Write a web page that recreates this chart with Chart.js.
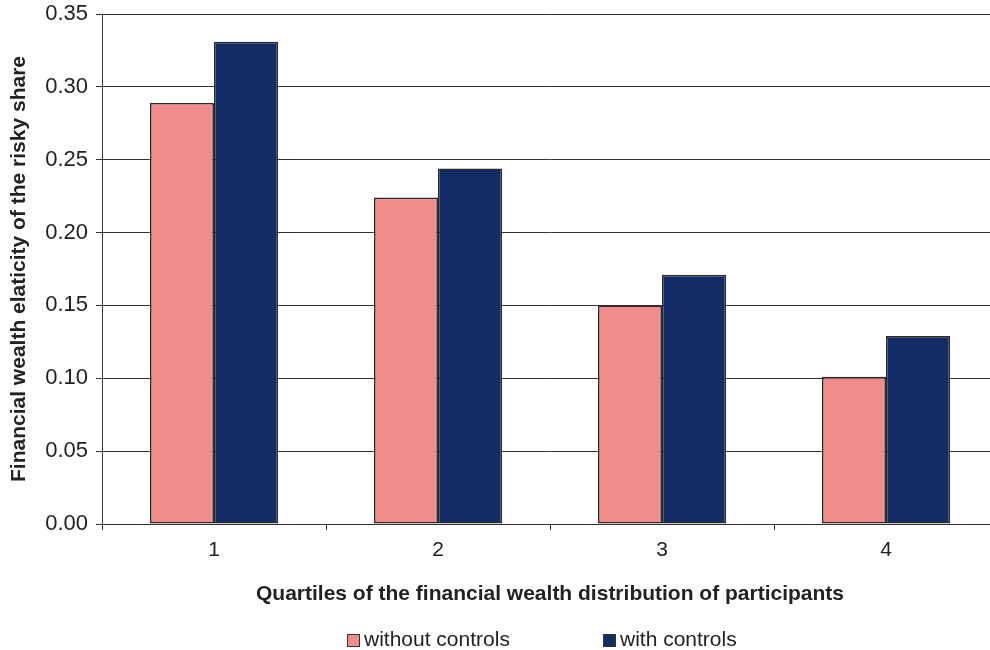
<!DOCTYPE html>
<html>
<head>
<meta charset="utf-8">
<script src="https://cdn.jsdelivr.net/npm/chart.js@4"></script>
<style>
  html, body { margin: 0; padding: 0; background: #fff; overflow: hidden; }
  #wrap { position: relative; width: 990px; height: 650px; overflow: hidden; }
  #chart { position: absolute; left: 0; top: 0; }
  .legend { position: absolute; top: 627px; font: 21px "Liberation Sans", Arial, sans-serif; color: #222; line-height: 24px; }
  .legend i { display: inline-block; width: 11px; height: 11px; border: 1px solid #333; margin-right: 4px; vertical-align: -1px; }
</style>
</head>
<body>
<div id="wrap">
  <canvas id="chart" width="1000" height="650"></canvas>
  <div class="legend" style="left:347px"><i style="background:#f08c8c"></i>without controls</div>
  <div class="legend" style="left:603px"><i style="background:#142c66"></i>with controls</div>
</div>
<script>
// Quartiles (x categories)
const quartiles = ['1', '2', '3', '4'];
// Elasticity values
const withoutControls = [0.289, 0.224, 0.150, 0.101];
const withControls = [0.331, 0.244, 0.171, 0.129];

const yTitle = 'Financial wealth elaticity of the risky share';
const xTitle = 'Quartiles of the financial wealth distribution of participants';

const lineCol = '#333333';
const font = "'Liberation Sans', Arial, sans-serif";

new Chart(document.getElementById('chart'), {
    type: 'bar',
    data: {
        labels: quartiles,
        datasets: [
            {
                label: 'without controls',
                data: withoutControls,
                backgroundColor: '#f08c8c',
                borderColor: '#2b2b2b',
                borderWidth: 1.6,
                borderSkipped: false
            },
            {
                label: 'with controls',
                data: withControls,
                backgroundColor: '#142c66',
                borderColor: '#2b2b2b',
                borderWidth: 1.6,
                borderSkipped: false
            }
        ]
    },
    options: {
        responsive: false,
        animation: false,
        devicePixelRatio: 1,
        layout: { padding: { top: 14, right: 2, bottom: 38, left: 0 } },
        datasets: { bar: { categoryPercentage: 128 / 224, barPercentage: 1 } },
        plugins: {
            legend: { display: false },
            tooltip: { enabled: false }
        },
        scales: {
            x: {
                afterFit: (s) => { s.height = 88; s.paddingLeft = 0; s.paddingRight = 0; },
                grid: { drawOnChartArea: false, drawTicks: true, tickLength: 6, color: lineCol },
                border: { color: lineCol },
                ticks: { color: '#222', padding: 8, font: { family: font, size: 21 } },
                title: {
                    display: true,
                    text: xTitle,
                    color: '#222',
                    padding: { top: 0, bottom: 5 },
                    font: { family: font, size: 21, weight: 'bold' }
                }
            },
            y: {
                min: 0,
                max: 0.35,
                afterFit: (s) => { s.width = 102; s.paddingTop = 0; s.paddingBottom = 0; },
                grid: { color: lineCol, tickLength: 6 },
                border: { color: lineCol },
                ticks: {
                    stepSize: 0.05,
                    padding: 8,
                    color: '#222',
                    font: { family: font, size: 22 },
                    callback: (v) => v.toFixed(2)
                },
                title: {
                    display: true,
                    text: yTitle,
                    color: '#222',
                    padding: { top: 7, bottom: 0 },
                    font: { family: font, size: 21, weight: 'bold' }
                }
            }
        }
    }
});
</script>
</body>
</html>
